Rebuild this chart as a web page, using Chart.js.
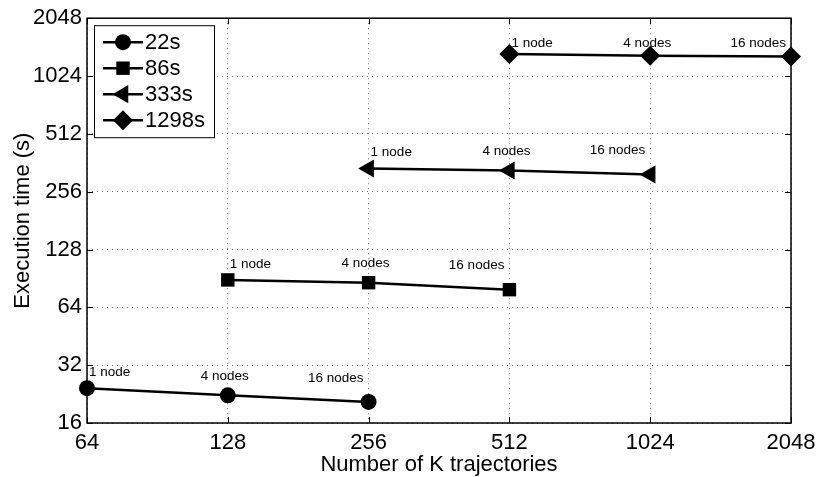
<!DOCTYPE html>
<html>
<head>
<meta charset="utf-8">
<script src="https://cdn.jsdelivr.net/npm/chart.js@4/dist/chart.umd.min.js"></script>
<style>
  html, body { margin: 0; padding: 0; background: #fff; }
  #wrap { width: 819px; height: 477px; }
</style>
</head>
<body>
<div id="wrap"><canvas id="chart"></canvas></div>
<script>
// data
const xTicks = [64, 128, 256, 512, 1024, 2048];
const yTicks = [16, 32, 64, 128, 256, 512, 1024, 2048];
const nodeLabels = ["1 node", "4 nodes", "16 nodes"];

const seriesNames = ["22s", "86s", "333s", "1298s"];
const x22 = [64, 128, 256];
const y22 = [24.3, 22.3, 20.6];
const x86 = [128, 256, 512];
const y86 = [88.9, 86.0, 79.1];
const x333 = [256, 512, 1024];
const y333 = [338, 330, 315];
const x1298 = [512, 1024, 2048];
const y1298 = [1333, 1306, 1296];

const markers = [
    { pointStyle: "circle", radius: 8, rotation: 0 },
    { pointStyle: "rect", radius: 9.5, rotation: 0 },
    { pointStyle: "triangle", radius: 10.5, rotation: -90 },
    { pointStyle: "rectRot", radius: 10, rotation: 0 }
];

const FONT = "'Liberation Sans', Arial, sans-serif";

function toPoints(xs, ys) {
    return xs.map((x, i) => ({ x: x, y: ys[i] }));
}

const allX = [x22, x86, x333, x1298];
const allY = [y22, y86, y333, y1298];

const datasets = seriesNames.map((name, i) => ({
    label: name,
    data: toPoints(allX[i], allY[i]),
    showLine: true,
    borderColor: "#000",
    backgroundColor: "#000",
    borderWidth: 2.5,
    pointStyle: markers[i].pointStyle,
    pointRadius: markers[i].radius,
    pointRotation: markers[i].rotation,
    pointBackgroundColor: "#000",
    pointBorderColor: "#000",
    pointBorderWidth: 0,
    pointHoverRadius: markers[i].radius,
    clip: false
}));

// -------------------------
// box, inner ticks, point notes, legend
// -------------------------
const decorPlugin = {
    id: "decor",
    afterDraw(chart) {
        const ctx = chart.ctx;
        const area = chart.chartArea;
        const xs = chart.scales.x;
        const ys = chart.scales.y;

        ctx.save();

        // frame
        ctx.strokeStyle = "#000";
        ctx.lineWidth = 1.5;
        ctx.strokeRect(area.left, area.top, area.right - area.left, area.bottom - area.top);

        // inner ticks on all four sides
        const tl = 6;
        ctx.lineWidth = 1;
        ctx.beginPath();
        xTicks.forEach(v => {
            const px = Math.round(xs.getPixelForValue(v)) + 0.5;
            ctx.moveTo(px, area.bottom); ctx.lineTo(px, area.bottom - tl);
            ctx.moveTo(px, area.top); ctx.lineTo(px, area.top + tl);
        });
        yTicks.forEach(v => {
            const py = Math.round(ys.getPixelForValue(v)) + 0.5;
            ctx.moveTo(area.left, py); ctx.lineTo(area.left + tl, py);
            ctx.moveTo(area.right, py); ctx.lineTo(area.right - tl, py);
        });
        ctx.stroke();

        // "1 node / 4 nodes / 16 nodes" notes
        ctx.fillStyle = "#000";
        ctx.font = "13.5px " + FONT;
        ctx.textBaseline = "middle";
        const aligns = ["left", "center", "right"];
        const dx = [2, -3, -5];
        const dy = [-16, -19, -24];
        chart.data.datasets.forEach((ds, di) => {
            const meta = chart.getDatasetMeta(di);
            meta.data.forEach((pt, i) => {
                ctx.textAlign = aligns[i];
                const ty = Math.max(pt.y + dy[i], area.top + 25);
                ctx.fillText(nodeLabels[i], pt.x + dx[i], ty);
            });
        });

        // legend box
        const bx = area.left + 7, by = area.top + 7, bw = 120, bh = 112;
        ctx.fillStyle = "#fff";
        ctx.fillRect(bx, by, bw, bh);
        ctx.strokeStyle = "#000";
        ctx.lineWidth = 1;
        ctx.strokeRect(bx + 0.5, by + 0.5, bw, bh);
        ctx.font = "22px " + FONT;
        ctx.textAlign = "left";
        chart.data.datasets.forEach((ds, i) => {
            const ry = by + 17 + i * 26;
            ctx.strokeStyle = "#000";
            ctx.lineWidth = 2.5;
            ctx.beginPath();
            ctx.moveTo(bx + 9, ry);
            ctx.lineTo(bx + 49, ry);
            ctx.stroke();
            ctx.fillStyle = "#000";
            Chart.helpers.drawPoint(ctx, {
                pointStyle: markers[i].pointStyle,
                radius: markers[i].radius,
                rotation: markers[i].rotation,
                borderWidth: 0
            }, bx + 29, ry);
            ctx.fillStyle = "#000";
            ctx.fillText(ds.label, bx + 51, ry + 1);
        });

        ctx.restore();
    }
};

const ctx = document.getElementById("chart").getContext("2d");

const chart = new Chart(ctx, {
    type: "scatter",
    data: { datasets: datasets },
    options: {
        responsive: true,
        maintainAspectRatio: false,
        animation: false,
        events: [],
        layout: { padding: { top: 16, right: 28, left: 0, bottom: 0 } },
        plugins: {
            legend: { display: false },
            tooltip: { enabled: false }
        },
        scales: {
            x: {
                type: "logarithmic",
                min: 64,
                max: 2048,
                afterBuildTicks: axis => { axis.ticks = xTicks.map(v => ({ value: v })); },
                afterFit: axis => {
                    axis.height = 54;
                    axis.paddingLeft = 0;
                    axis.paddingRight = 0;
                },
                ticks: {
                    color: "#000",
                    font: { family: FONT, size: 22 },
                    padding: 7,
                    maxRotation: 0,
                    callback: v => String(v)
                },
                grid: {
                    color: "rgba(0,0,0,0.55)",
                    lineWidth: 1,
                    drawTicks: false
                },
                border: { display: false, dash: [1, 4] },
                title: {
                    display: true,
                    text: "Number of K trajectories",
                    color: "#000",
                    font: { family: FONT, size: 22, lineHeight: 1 },
                    padding: { top: 0, bottom: 1 }
                }
            },
            y: {
                type: "logarithmic",
                min: 16,
                max: 2048,
                afterBuildTicks: axis => { axis.ticks = yTicks.map(v => ({ value: v })); },
                afterFit: axis => { axis.width = 87; },
                ticks: {
                    color: "#000",
                    font: { family: FONT, size: 22 },
                    padding: 5,
                    callback: v => String(v)
                },
                grid: {
                    color: "rgba(0,0,0,0.55)",
                    lineWidth: 1,
                    drawTicks: false
                },
                border: { display: false, dash: [1, 4] },
                title: {
                    display: true,
                    text: "Execution time (s)",
                    color: "#000",
                    font: { family: FONT, size: 22, lineHeight: 1 },
                    padding: { top: 12, bottom: 0 }
                }
            }
        }
    },
    plugins: [decorPlugin]
});
</script>
</body>
</html>
